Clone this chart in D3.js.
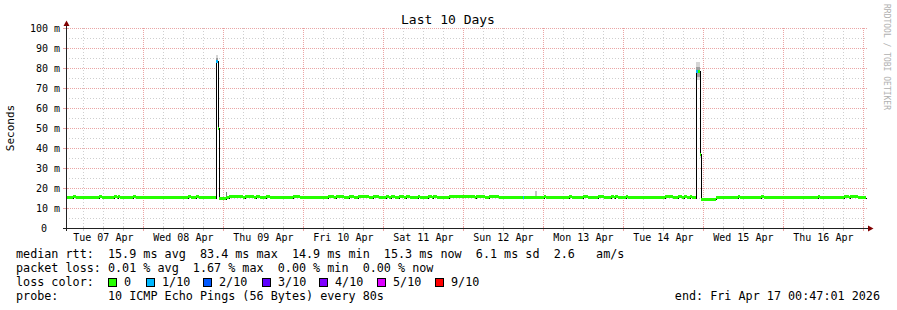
<!DOCTYPE html>
<html>
<head>
<meta charset="utf-8">
<script src="https://cdn.jsdelivr.net/npm/d3@7"></script>
<style>
  body { margin: 0; background: #fff; }
  svg { display: block; }
  text { font-family: "DejaVu Sans Mono", monospace; fill: #000; white-space: pre; }
</style>
</head>
<body>
<svg id="chart" width="897" height="310"></svg>
<script>
const startTime = new Date(2026, 3, 7, 0, 47, 1);
const endTime = new Date(2026, 3, 17, 0, 47, 1);
const yTicks = [0, 10, 20, 30, 40, 50, 60, 70, 80, 90, 100];

const lossLabels = ["0", "1/10", "2/10", "3/10", "4/10", "5/10", "9/10"];
const lossColors = ["#26ff00", "#00b8ff", "#0059ff", "#5e00ff", "#7e00ff", "#dd00ff", "#ff0000"];

// median rtt (ms) when nothing else is listed
const baseRtt = 15.25;
// median rtt runs: [from hour, to hour, ms, loss index], hours after start
const rttRuns = [
  [2.1, 3.0, 15.75, 0], [9.9, 10.8, 15.75, 0], [14.4, 15.3, 15.75, 0],
  [15.6, 16.2, 15.75, 0], [20.1, 21.0, 15.75, 0], [36.6, 37.5, 15.75, 0],
  [39.0, 39.9, 15.75, 0],
  [45.0, 45.6, 83.4, 1], [45.6, 45.9, 49.8, 0], [45.9, 48.0, 14.65, 0],
  [48.9, 53.1, 15.75, 0], [53.7, 56.4, 15.75, 0], [57.0, 58.2, 15.75, 0],
  [60.0, 61.2, 15.75, 0], [68.1, 70.2, 15.75, 0], [78.6, 80.4, 15.75, 0],
  [81.0, 83.4, 15.75, 0], [84.9, 86.4, 15.75, 0], [87.6, 90.9, 15.75, 0],
  [92.1, 93.9, 15.75, 0], [96.0, 96.9, 15.75, 0], [97.5, 98.7, 15.75, 0],
  [99.9, 101.4, 15.75, 0], [102.0, 103.2, 15.75, 0], [105.6, 106.2, 15.75, 0],
  [108.6, 109.8, 15.75, 0], [110.1, 111.3, 15.75, 0], [114.9, 122.7, 15.75, 0],
  [123.0, 125.7, 15.75, 0], [126.9, 129.9, 15.75, 0], [137.1, 137.4, 15.25, 1],
  [143.4, 144.0, 15.75, 0], [150.9, 151.8, 15.75, 0], [155.1, 156.6, 15.75, 0],
  [159.6, 161.4, 15.75, 0], [163.5, 164.4, 15.75, 0], [164.7, 165.6, 15.75, 0],
  [168.0, 168.6, 15.75, 0], [179.7, 182.1, 15.75, 0], [183.6, 184.8, 15.75, 0],
  [185.4, 186.3, 15.75, 0], [187.2, 187.8, 15.75, 0],
  [189.0, 189.6, 78.5, 1], [189.6, 190.2, 78.5, 0], [190.2, 190.5, 37.0, 0],
  [190.5, 195.0, 14.5, 0],
  [201.6, 202.2, 15.75, 0], [208.5, 209.4, 15.75, 0], [225.6, 226.2, 15.75, 0],
  [233.4, 234.9, 15.75, 0], [235.2, 237.6, 15.75, 0]
];
// smoke: [from hour, to hour, low ms, high ms, shade]
const smokeRuns = [
  [45.0, 45.6, 83.4, 86.5, "#d6d6d6"], [45.0, 45.6, 83.4, 85.0, "#9a9a9a"],
  [45.6, 45.9, 49.8, 54.0, "#d6d6d6"], [45.6, 45.9, 49.8, 51.5, "#9a9a9a"],
  [48.0, 48.3, 15.2, 18.2, "#7a7a7a"],
  [140.7, 141.3, 15.2, 18.5, "#c4c4c4"],
  [189.0, 190.2, 74.0, 83.2, "#d6d6d6"], [189.0, 190.2, 75.5, 80.5, "#a0a0a0"],
  [190.2, 190.5, 35.0, 42.5, "#d6d6d6"], [190.2, 190.5, 36.0, 40.0, "#a0a0a0"]
];

const statsRtt = "median rtt:  15.9 ms avg  83.4 ms max  14.9 ms min  15.3 ms now  6.1 ms sd  2.6   am/s";
const statsLoss = "packet loss: 0.01 % avg  1.67 % max  0.00 % min  0.00 % now";
const probeText = "probe:       10 ICMP Echo Pings (56 Bytes) every 80s";

const svg = d3.select("#chart");
const x = d3.scaleTime().domain([startTime, endTime]).range([66, 866]);
const y = d3.scaleLinear().domain([0, 100]).range([228, 28]);
const at = h => new Date(+startTime + h * 36e5);
const xh = h => Math.round(x(at(h)));
const px = v => Math.round(v) + 0.5;

const gridColor = "#cfcfcf";
const majorColor = "#eaa5a5";

// grid
const grid = svg.append("g").attr("shape-rendering", "crispEdges");
const minorY = d3.range(5, 100, 10);
grid.selectAll(".gy").data(minorY).join("line")
  .attr("x1", 66).attr("x2", 867)
  .attr("y1", d => px(y(d))).attr("y2", d => px(y(d)))
  .attr("stroke", gridColor).attr("stroke-dasharray", "1,2");
const sixHours = d3.timeHour.every(6).range(startTime, endTime).filter(d => d.getHours() !== 0);
grid.selectAll(".gx").data(sixHours).join("line")
  .attr("x1", d => px(x(d))).attr("x2", d => px(x(d)))
  .attr("y1", 28).attr("y2", 228)
  .attr("stroke", gridColor).attr("stroke-dasharray", "1,2");
grid.selectAll(".my").data(yTicks.filter(d => d > 0)).join("line")
  .attr("x1", 66).attr("x2", 867)
  .attr("y1", d => px(y(d))).attr("y2", d => px(y(d)))
  .attr("stroke", majorColor).attr("stroke-dasharray", "1,1");
const days = d3.timeDay.range(startTime, endTime);
grid.selectAll(".mx").data(days).join("line")
  .attr("x1", d => px(x(d))).attr("x2", d => px(x(d)))
  .attr("y1", 28).attr("y2", 228)
  .attr("stroke", majorColor).attr("stroke-dasharray", "1,1");

// smoke
svg.append("g").attr("shape-rendering", "crispEdges")
  .selectAll("rect").data(smokeRuns).join("rect")
  .attr("x", d => xh(d[0])).attr("width", d => Math.max(1, xh(d[1]) - xh(d[0])))
  .attr("y", d => Math.round(y(d[3]))).attr("height", d => Math.round(y(d[2])) - Math.round(y(d[3])))
  .attr("fill", d => d[4]);

// full median series, base value between the listed runs
const segs = [];
let h = 0;
rttRuns.forEach(r => {
  if (r[0] > h) segs.push([h, r[0], baseRtt, 0]);
  segs.push(r);
  h = r[1];
});
if (h < 240) segs.push([h, 240, baseRtt, 0]);

const pts = segs.map(s => [s[0], s[2]]);
pts.push([240, segs[segs.length - 1][2]]);
svg.append("path")
  .attr("d", d3.line().curve(d3.curveStepAfter)
    .x(d => xh(d[0]) + 0.5).y(d => Math.round(y(d[1])) + 0.5)(pts))
  .attr("fill", "none").attr("stroke", "#000").attr("stroke-width", 1)
  .attr("shape-rendering", "crispEdges");

svg.append("g").attr("shape-rendering", "crispEdges")
  .selectAll("rect").data(segs).join("rect")
  .attr("x", d => xh(d[0])).attr("width", d => Math.max(1, xh(d[1]) - xh(d[0])))
  .attr("y", d => Math.round(y(d[2]) - 1.5)).attr("height", 3)
  .attr("fill", d => lossColors[d[3]]);

// ticks on the axes
const ticks = svg.append("g").attr("shape-rendering", "crispEdges");
ticks.selectAll(".tx").data(sixHours).join("line")
  .attr("x1", d => px(x(d))).attr("x2", d => px(x(d)))
  .attr("y1", 226).attr("y2", 231).attr("stroke", gridColor);
ticks.selectAll(".tmx").data(days).join("line")
  .attr("x1", d => px(x(d))).attr("x2", d => px(x(d)))
  .attr("y1", 226).attr("y2", 231).attr("stroke", majorColor);
ticks.selectAll(".ty").data(yTicks).join("line")
  .attr("x1", 63).attr("x2", 69)
  .attr("y1", d => px(y(d))).attr("y2", d => px(y(d))).attr("stroke", majorColor);

// axes
svg.append("line").attr("x1", 63).attr("x2", 869).attr("y1", 228.5).attr("y2", 228.5)
  .attr("stroke", "#212121").attr("shape-rendering", "crispEdges");
svg.append("line").attr("x1", 66.5).attr("x2", 66.5).attr("y1", 231).attr("y2", 25)
  .attr("stroke", "#212121").attr("shape-rendering", "crispEdges");
svg.append("path").attr("d", "M868,225.5L873.5,228.5L868,231.5Z").attr("fill", "#800000");
svg.append("path").attr("d", "M63.5,26L66.5,20.5L69.5,26Z").attr("fill", "#800000");

// y labels
svg.append("g").selectAll("text").data(yTicks).join("text")
  .attr("x", d => d === 0 ? 47 : 60).attr("y", d => y(d)).attr("dy", "0.36em")
  .attr("text-anchor", "end").style("font-size", "10px")
  .text(d => d === 0 ? "0" : d + " m");

// x labels at noon
const fmtDay = d3.timeFormat("%a %d %b");
const noons = d3.timeDay.range(d3.timeDay.floor(startTime), endTime)
  .map(d => d3.timeHour.offset(d, 12)).filter(d => d > startTime && d < endTime);
svg.append("g").selectAll("text").data(noons).join("text")
  .attr("x", d => x(d)).attr("y", 240.5).attr("text-anchor", "middle")
  .style("font-size", "10px").text(fmtDay);

// title, axis title, watermark
svg.append("text").attr("x", 448).attr("y", 23.5).attr("text-anchor", "middle")
  .style("font-size", "13px").text("Last 10 Days");
svg.append("text").attr("transform", "translate(14,128) rotate(-90)")
  .attr("text-anchor", "middle").style("font-size", "11px").text("Seconds");
svg.append("text").attr("transform", "translate(883.5,4) rotate(90)")
  .style("font-size", "8px").style("fill", "#b0b0b0").text("RRDTOOL / TOBI OETIKER");

// legend
const legend = svg.append("g").style("font-size", "11.75px");
legend.append("text").attr("x", 16).attr("y", 258).text(statsRtt);
legend.append("text").attr("x", 16).attr("y", 272).text(statsLoss);
legend.append("text").attr("x", 16).attr("y", 286).text("loss color:");
legend.append("text").attr("x", 16).attr("y", 300).text(probeText);
legend.append("text").attr("x", 880).attr("y", 300).attr("text-anchor", "end")
  .text("end: " + d3.timeFormat("%a %b %d %H:%M:%S %Y")(endTime));

const boxX = [108, 146, 203, 262, 319, 377, 435];
const keys = legend.selectAll(".key").data(lossLabels).join("g")
  .attr("transform", (d, i) => `translate(${boxX[i]},0)`);
keys.append("rect").attr("x", 0.5).attr("y", 278.5).attr("width", 8).attr("height", 8)
  .attr("fill", (d, i) => lossColors[i]).attr("stroke", "#000")
  .attr("shape-rendering", "crispEdges");
keys.append("text").attr("x", 16).attr("y", 286).text(d => d);
</script>
</body>
</html>
